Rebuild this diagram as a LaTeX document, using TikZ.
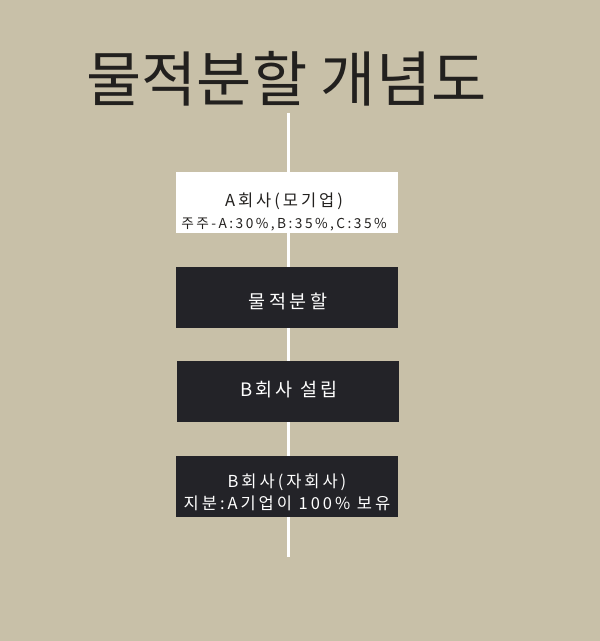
\documentclass[tikz,border=0pt]{standalone}
\usepackage{fontspec}
\setmainfont{Noto Sans CJK KR}
\newfontfamily\titlefont{Noto Sans CJK KR}
\newfontfamily\boxfont[LetterSpace=18]{Noto Sans CJK KR}
\definecolor{bgbeige}{RGB}{200,192,168}
\definecolor{boxdark}{RGB}{35,35,40}
\definecolor{titledark}{RGB}{34,32,30}
\tikzset{
  stepbox/.style={minimum width=222pt, minimum height=61pt, inner sep=0pt},
  darkbox/.style={stepbox, fill=boxdark},
  lightbox/.style={stepbox, fill=white},
  boxtext/.style={inner sep=0pt, align=center, font=\boxfont\fontsize{16.5}{22}\selectfont},
  bigtext/.style={inner sep=0pt, align=center, font=\boxfont\fontsize{18.5}{22}\selectfont}
}
\begin{document}
\begin{tikzpicture}[x=1pt,y=-1pt]
\useasboundingbox[fill=bgbeige] (0,0) rectangle (600,641);
% title
\node[text=titledark, font=\titlefont\fontsize{60}{64}\selectfont] (title) at (286.5,78.5) {물적분할 개념도};
% spine
\coordinate (top) at (288,113);
\coordinate (bottom) at (288,557);
\draw[white, line width=3pt] (top) -- (bottom);
% boxes
\node[lightbox] (parent) at (287,202.5) {};
\node[darkbox] (split) at (287,297.5) {};
\node[darkbox] (found) at (287.5,391.5) {};
\node[darkbox] (child) at (287,486.5) {};
% box texts
\node[boxtext, text=titledark] (parenttext) at (284,212) {A회사(모기업)\\{\fontsize{13.7}{16}\selectfont 주주-A:30\%,B:35\%,C:35\%}};
\node[bigtext, text=white] (splittext) at (288,301.5) {물적분할};
\node[bigtext, text=white] (foundtext) at (289,390) {B회사 설립};
\node[boxtext, text=white] (childtext) at (287,492.5) {B회사(자회사)\\지분:A기업이 100\% 보유};
\end{tikzpicture}
\end{document}
